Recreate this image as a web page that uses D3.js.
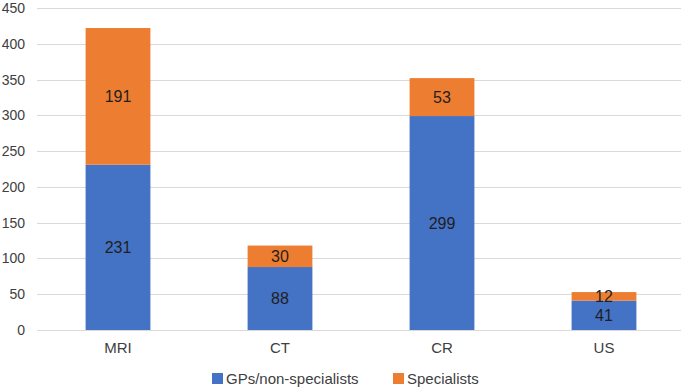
<!DOCTYPE html>
<html lang="en">
<head>
    <meta charset="UTF-8">
    <title>Stacked bars</title>
    <script src="https://d3js.org/d3.v7.min.js"></script>
    <style>
        body { margin: 0; background: #fff; }
        text { font-family: "Liberation Sans", Arial, sans-serif; }
        .axis text { font-size: 14px; fill: #404040; }
        .xaxis text { font-size: 15px; fill: #404040; }
        .legend text { font-size: 15px; fill: #404040; }
        .label { font-size: 16px; fill: #1f1f1f; text-anchor: middle; }
    </style>
</head>
<body>
<script>
    // data
    var categories = ["MRI", "CT", "CR", "US"];
    var gps = [231, 88, 299, 41];
    var specialists = [191, 30, 53, 12];
    var seriesNames = ["GPs/non-specialists", "Specialists"];
    var yTicks = [0, 50, 100, 150, 200, 250, 300, 350, 400, 450];

    var width = 685, height = 390;
    var colors = ["#4472C4", "#ED7D31"];

    var svg = d3.select("body").append("svg")
        .attr("width", width)
        .attr("height", height);

    var rows = categories.map(function(c, i) {
        return { cat: c, gps: gps[i], spec: specialists[i] };
    });

    var x = d3.scaleBand().domain(categories).range([37, 685]).paddingInner(0.6).paddingOuter(0.3);
    var y = d3.scaleLinear().domain([0, 450]).range([330, 8]);

    // gridlines
    svg.append("g")
        .selectAll("line")
        .data(yTicks)
        .enter().append("line")
        .attr("x1", 37).attr("x2", 681)
        .attr("y1", function(d) { return Math.round(y(d)) + 0.5; })
        .attr("y2", function(d) { return Math.round(y(d)) + 0.5; })
        .attr("stroke", "#d9d9d9")
        .attr("stroke-width", 1);

    // y axis labels
    var yAxis = svg.append("g").attr("class", "axis")
        .attr("transform", "translate(25,0)")
        .call(d3.axisLeft(y).tickValues(yTicks).tickSize(0).tickPadding(0));
    yAxis.select(".domain").remove();

    var stack = d3.stack().keys(["gps", "spec"]);
    var layers = stack(rows);

    svg.selectAll(".layer")
        .data(layers)
        .enter().append("g")
        .attr("fill", function(d, i) { return colors[i]; })
        .selectAll("rect")
        .data(function(d) { return d; })
        .enter().append("rect")
        .attr("x", function(d) { return x(d.data.cat); })
        .attr("width", x.bandwidth())
        .attr("y", function(d) { return y(d[1]); })
        .attr("height", function(d) { return y(d[0]) - y(d[1]); });

    // data labels
    layers.forEach(function(layer, li) {
        svg.selectAll(".lbl" + li)
            .data(layer)
            .enter().append("text")
            .attr("class", "label")
            .attr("x", function(d) { return x(d.data.cat) + x.bandwidth() / 2; })
            .attr("y", function(d) { return (y(d[0]) + y(d[1])) / 2; })
            .attr("dy", "0.36em")
            .text(function(d) { return d[1] - d[0]; });
    });

    // x axis line and labels
    var xAxis = svg.append("g").attr("class", "xaxis")
        .attr("transform", "translate(0,330)")
        .call(d3.axisBottom(x).tickSize(0).tickPadding(12));
    xAxis.select(".domain").attr("stroke", "#d9d9d9").attr("d", "M37,0.5H681");

    // legend
    var legend = svg.append("g").attr("class", "legend");
    var legendX = [212, 393];
    seriesNames.forEach(function(name, i) {
        legend.append("rect")
            .attr("x", legendX[i]).attr("y", 373)
            .attr("width", 11).attr("height", 11)
            .attr("fill", colors[i]);
        legend.append("text")
            .attr("x", legendX[i] + 14).attr("y", 379)
            .attr("dy", "0.36em")
            .text(name);
    });
</script>
</body>
</html>
